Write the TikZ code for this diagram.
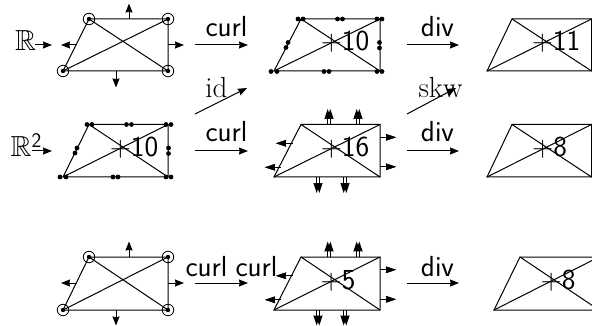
\documentclass[tikz,border=0pt]{standalone}
\usepackage{amssymb}
\usetikzlibrary{arrows.meta}
\tikzset{
  edge/.style={line width=1pt,line cap=round},
  arr/.style={line width=1pt,-{Stealth[length=9pt,width=7pt,inset=0.6pt]}},
  darr/.style={line width=1pt,-{Stealth[length=10pt,width=6.5pt,inset=0.5pt]}},
  txt/.style={anchor=base,inner sep=0pt,font=\fontsize{29}{29}\selectfont},
  stxt/.style={txt,font=\fontsize{29}{29}\selectfont\sffamily},
  dot/.style={circle,fill=black,inner sep=0pt,minimum size=4.8pt},
  ring/.style={circle,draw,line width=0.8pt,inner sep=0pt,minimum size=11.5pt}
}
% mesh: name, x of top-left corner, x of bottom-left corner, x of top-right corner, y top, y bottom
\newcommand{\mesh}[6]{
  \coordinate (#1a) at (#2,#5);
  \coordinate (#1b) at (#4,#5);
  \coordinate (#1c) at (#4,#6);
  \coordinate (#1d) at (#3,#6);
  \draw[edge] (#1a) -- (#1b) -- (#1c) -- (#1d) -- cycle;
  \draw[edge] (#1a) -- (#1c) (#1b) -- (#1d);
}
\newcommand{\ar}[3]{
  \coordinate (#1s) at (#2);
  \coordinate (#1e) at (#3);
  \draw[arr] (#1s) -- (#1e);
}
% double arrow: name, start, end, half-offset vector
\newcommand{\dar}[4]{
  \coordinate (#1s) at (#2);
  \coordinate (#1e) at (#3);
  \draw[darr] ([shift={(#4)}]#1s) -- ([shift={(#4)}]#1e);
  \draw[darr] ([shift={(-#4)}]#1s) -- ([shift={(-#4)}]#1e);
}
\newcommand{\vertexmesh}[1]{
  \foreach \c in {a,b,c,d}{
    \node[ring] at (#1\c) {};
    \node[dot,minimum size=4.4pt] at (#1\c) {};
  }
}
% arrows of lowest-order face space, #2 = y of top edge
\newcommand{\facearrows}[2]{
  \ar{#1u}{129,#2}{129,#2-15.5}
  \ar{#1l}{76,#2+26}{61,#2+26}
  \ar{#1r}{168,#2+26}{184,#2+26}
  \ar{#1o}{116,#2+52.5}{116,#2+68.5}
}
% double arrows around the second column mesh
\newcommand{\twofacearrows}[2]{
  \dar{#1ua}{329,#2}{329,#2-15.5}{1.3,0}
  \dar{#1ub}{358,#2}{358,#2-15.5}{1.3,0}
  \dar{#1ra}{380,#2+11.5}{396,#2+11.5}{0,1.3}
  \dar{#1rb}{380,#2+41}{396,#2+41}{0,1.3}
  \dar{#1oa}{318,#2+52.5}{318,#2+68.5}{1.3,0}
  \dar{#1ob}{345,#2+52.5}{345,#2+68.5}{1.3,0}
  \dar{#1la}{293,#2+17.5}{276,#2+17.5}{0,1.3}
  \dar{#1lb}{281,#2+41.5}{265,#2+41.5}{0,1.3}
}
% pairs of dots on the edges of a mesh, shifted by x offset #1, top y #2
\newcommand{\edgedots}[2]{
  \foreach \px/\py in {
    87/0,92/0,126.5/0,131.5/0,166/0,171/0,
    60/52.5,66/52.5,113/52.5,118/52.5,166/52.5,171/52.5,
    77/23.5,75/28.5,168.5/23.5,168.5/29}{
    \node[dot] at ({\px+#1},{#2+\py}) {};
  }
}
\begin{document}
\begin{tikzpicture}[x=1pt,y=-1pt]
\useasboundingbox (0,0) rectangle (592,326);
\clip (0,0) rectangle (592,326);

% row 1
\mesh{p}{89}{63}{168}{19}{71}
\vertexmesh{p}
\facearrows{pf}{19}
\node[txt] (r1) at (25.5,51) {$\mathbb{R}$};
\ar{rone}{35,45}{52,45}
\node[stxt] (cu1) at (226.5,37) {curl};
\ar{cone}{195,45}{248,45}
\mesh{q}{301}{274}{380}{19}{71}
\edgedots{211}{19}
\node[stxt] (n1) at (345,51) {+10};
\node[stxt] (dv1) at (437.5,37) {div};
\ar{done}{407,45}{459,45}
\mesh{s}{512}{487}{591.5}{19}{71}
\node[stxt] (n2) at (556,51) {+11};

% diagonal maps
\node[txt] (id) at (216.5,98) {id};
\ar{idm}{195,114}{247,88}
\node[txt] (skw) at (440.5,98) {skw};
\ar{skm}{407,114}{456,88}

% row 2
\mesh{t}{89}{63}{168}{124.5}{177}
\edgedots{0}{124.5}
\node[stxt] (n3) at (134,157) {+10};
\node[txt,anchor=base west] (r2) at (10.5,157) {$\mathbb{R}^{\mathsf{2}}$};
\ar{rtwo}{32,151}{52,151}
\node[stxt] (cu2) at (226.5,142) {curl};
\ar{ctwo}{195,151}{248,151}
\mesh{u}{301}{274}{380}{124.5}{177}
\twofacearrows{ua}{124.5}
\node[stxt] (n4) at (345,157) {+16};
\node[stxt] (dv2) at (437.5,142) {div};
\ar{dtwo}{407,151}{459,151}
\mesh{v}{512}{487}{591.5}{124.5}{177}
\node[stxt] (n5) at (549.5,157) {+8};

% row 3
\mesh{w}{89}{63}{168}{257}{310}
\vertexmesh{w}
\facearrows{wf}{257}
\node[stxt] (cu3) at (206.5,276) {curl};
\node[stxt] (cu4) at (256.5,276) {curl};
\ar{cthree}{195,283}{248,283}
\mesh{x}{301}{274}{380}{257}{310}
\twofacearrows{xa}{257}
\node[stxt] (n6) at (338,289) {+5};
\node[stxt] (dv3) at (437.5,276) {div};
\ar{dthree}{407,283}{459,283}
\mesh{y}{520}{494}{599}{257}{310}
\node[stxt] (n7) at (558,289) {+8};
\end{tikzpicture}
\end{document}
